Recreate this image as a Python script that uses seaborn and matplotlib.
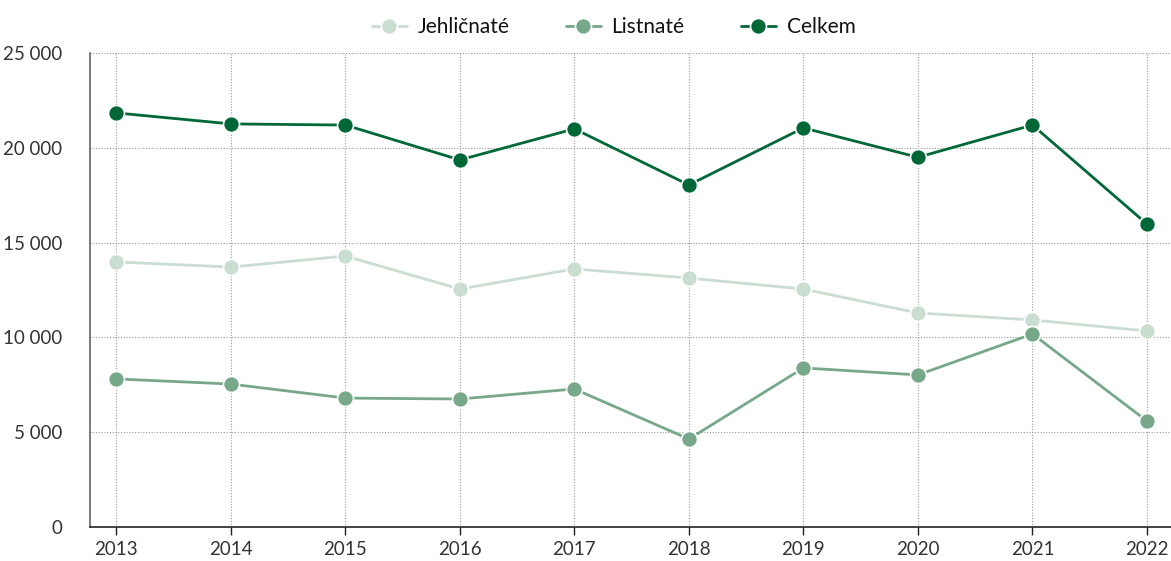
import matplotlib
matplotlib.use("Agg")
import matplotlib.pyplot as plt
import matplotlib.ticker as mticker
import seaborn as sns
import pandas as pd

years = [2013, 2014, 2015, 2016, 2017, 2018, 2019, 2020, 2021, 2022]
jehlicnate = [13980, 13710, 14290, 12550, 13610, 13130, 12550, 11290, 10920, 10340]
listnate = [7810, 7540, 6800, 6750, 7280, 4640, 8390, 8020, 10180, 5590]
celkem = [21840, 21260, 21200, 19360, 21000, 18040, 21050, 19500, 21200, 15980]
series_names = ["Jehličnaté", "Listnaté", "Celkem"]
colors = ["#c9ddd0", "#76a889", "#006837"]
yticks = [0, 5000, 10000, 15000, 20000, 25000]

sns.set_theme(style="white")
plt.rcParams["font.family"] = ["Lato", "DejaVu Sans"]

rows = []
for name, vals in zip(series_names, [jehlicnate, listnate, celkem]):
    for y, v in zip(years, vals):
        rows.append({"Rok": y, "Hodnota": v, "Řada": name})
df = pd.DataFrame(rows)

fig = plt.figure(figsize=(11.71, 5.61), dpi=100)
ax = fig.add_axes([90/1171, 34/561, 1 - 90/1171, (527-53)/561])

sns.lineplot(data=df, x="Rok", y="Hodnota", hue="Řada", hue_order=series_names,
             palette=colors, marker="o", markersize=11.5, markeredgecolor="white",
             markeredgewidth=1.2, linewidth=2.0, ax=ax, legend=False)

ax.set_xlim(2012.77, 2022.21)
ax.set_ylim(0, 25000)
ax.set_xticks(years)
ax.set_yticks(yticks)
ax.yaxis.set_major_formatter(mticker.FuncFormatter(lambda v, p: f"{int(v):,}".replace(",", " ")))
ax.set_xlabel("")
ax.set_ylabel("")
ax.grid(True, color="#999999", linestyle=(0, (1, 1.5)), linewidth=0.8)
ax.set_axisbelow(True)
for s in ["top", "right"]:
    ax.spines[s].set_visible(False)
ax.spines["left"].set_color("#666666")
ax.spines["left"].set_linewidth(1.2)
ax.spines["bottom"].set_color("#222222")
ax.spines["bottom"].set_linewidth(1.2)
ax.tick_params(axis="x", which="major", bottom=True, length=6, width=1, color="#222222",
               labelsize=13.5, labelcolor="#333333", pad=4)
ax.tick_params(axis="y", left=False, labelsize=13.5, labelcolor="#333333", pad=14)

from matplotlib.lines import Line2D
handles = [Line2D([0], [0], color=c, marker="o", markersize=11.5, markeredgecolor="white",
                  markeredgewidth=1.2, linewidth=2.0) for c in colors]
leg = fig.legend(handles, series_names, loc="center", bbox_to_anchor=(0.524, 0.952), ncol=3,
                 frameon=False, fontsize=15, handlelength=1.7, columnspacing=2.7, handletextpad=0.5)
for t in leg.get_texts():
    t.set_color("#111111")

fig.savefig("out.png", dpi=100)
